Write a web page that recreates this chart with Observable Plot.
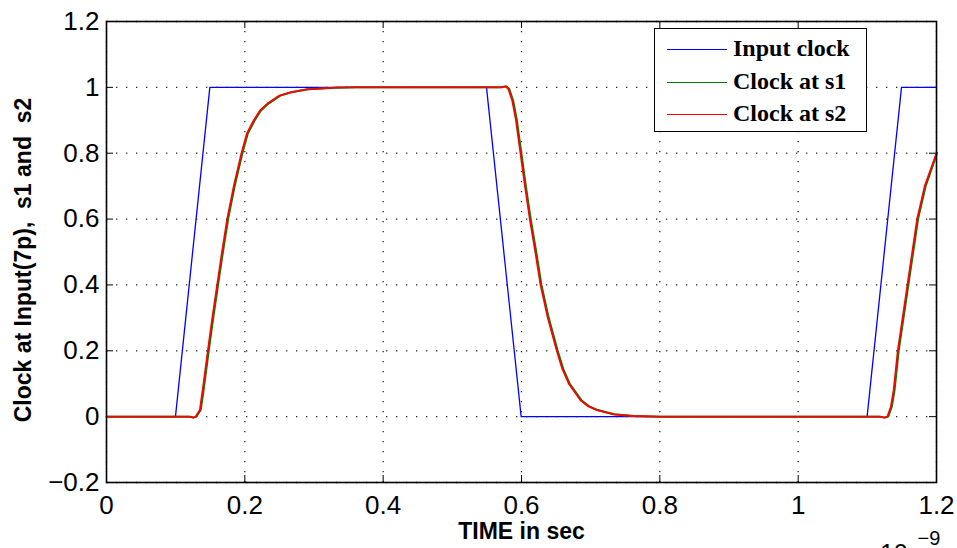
<!DOCTYPE html>
<html>
<head>
<meta charset="utf-8">
<script src="https://cdn.jsdelivr.net/npm/d3@7"></script>
<script src="https://cdn.jsdelivr.net/npm/@observablehq/plot@0.6"></script>
<style>
  html, body { margin: 0; padding: 0; background: #fff; }
  #wrap { position: relative; width: 957px; height: 548px; overflow: hidden; }
  #wrap svg text { white-space: pre; }
  #legend {
    position: absolute; left: 654px; top: 28px; width: 211px; height: 102px;
    border: 1.5px solid #000; background: #fff;
    font-family: "Liberation Serif", "Times New Roman", serif; font-weight: bold; font-size: 24px;
  }
  #legend .row { position: absolute; left: 0; height: 30px; width: 100%; }
  #legend .sw { position: absolute; left: 12px; width: 60px; height: 0; top: 0; }
  #legend .lab { position: absolute; left: 78px; line-height: 1; white-space: nowrap; }
</style>
</head>
<body>
<div id="wrap"><div id="legend"></div></div>
<script>
// ---- data (time in units of 1e-9 s) ----
const inputTime  = [0, 0.0997, 0.1494, 0.5494, 0.5995, 1.0997, 1.1494, 1.2];
const inputClock = [0, 0, 1, 1, 0, 0, 1, 1];

const s2Time = [0, 0.12, 0.125, 0.1287, 0.1349, 0.139, 0.1465, 0.153, 0.160, 0.167, 0.1745, 0.184, 0.1951,
  0.203, 0.213, 0.222, 0.2323, 0.25, 0.266, 0.29, 0.33, 0.36, 0.570, 0.577, 0.581, 0.5866, 0.592, 0.5985, 0.605, 0.612,
  0.62, 0.6275, 0.638, 0.651, 0.659, 0.6684, 0.6853, 0.696, 0.709, 0.733, 0.76, 0.8, 1.118, 1.124, 1.129, 1.134, 1.138,
  1.144, 1.151, 1.158, 1.165, 1.172, 1.183, 1.2];
const s2Clock = [0, 0, -0.003, 0, 0.02, 0.08, 0.2, 0.3, 0.4, 0.5, 0.6, 0.7, 0.8,
  0.86, 0.9, 0.93, 0.95, 0.975, 0.985, 0.994, 0.999, 1.0, 1.0, 1.003, 0.995, 0.96, 0.9, 0.8, 0.7, 0.6,
  0.5, 0.4, 0.3, 0.2, 0.145, 0.1, 0.05, 0.032, 0.02, 0.007, 0.002, 0, 0, -0.003, 0, 0.03, 0.08,
  0.2, 0.3, 0.4, 0.5, 0.6, 0.7, 0.8];

const s1Time = [0, 0.12, 0.125, 0.1292, 0.1355, 0.1396, 0.1471, 0.1536, 0.1606, 0.1676, 0.1751, 0.1846, 0.1957,
  0.2036, 0.2136, 0.2226, 0.2329, 0.2506, 0.2666, 0.2906, 0.3306, 0.36, 0.570, 0.5776, 0.5816, 0.5872, 0.5926, 0.5991, 0.6056, 0.6126,
  0.6206, 0.6281, 0.6386, 0.6516, 0.6596, 0.669, 0.6859, 0.6966, 0.7096, 0.7336, 0.7606, 0.8, 1.118, 1.1245, 1.1295, 1.1346, 1.1386,
  1.1446, 1.1516, 1.1586, 1.1656, 1.1726, 1.1836, 1.2];
const s1Clock = [0, 0, -0.003, 0, 0.02, 0.08, 0.2, 0.3, 0.4, 0.5, 0.6, 0.7, 0.8,
  0.86, 0.9, 0.93, 0.95, 0.975, 0.985, 0.994, 0.999, 1.0, 1.0, 1.003, 0.995, 0.96, 0.9, 0.8, 0.7, 0.6,
  0.5, 0.4, 0.3, 0.2, 0.145, 0.1, 0.05, 0.032, 0.02, 0.007, 0.002, 0, 0, -0.003, 0, 0.03, 0.08,
  0.2, 0.3, 0.4, 0.5, 0.6, 0.7, 0.8];

const xTicks = [0, 0.2, 0.4, 0.6, 0.8, 1, 1.2];
const xTickLabels = ["0", "0.2", "0.4", "0.6", "0.8", "1", "1.2"];
const yTicks = [-0.2, 0, 0.2, 0.4, 0.6, 0.8, 1, 1.2];
const yTickLabels = ["\u22120.2", "0", "0.2", "0.4", "0.6", "0.8", "1", "1.2"];

const seriesNames = ["Input clock", "Clock at s1", "Clock at s2"];
const seriesColors = ["#0000ff", "#008000", "#ff0000"];

// ---- tables ----
const inputRows = inputTime.map((t, i) => ({t, v: inputClock[i]}));
const s1Rows = s1Time.map((t, i) => ({t, v: s1Clock[i]}));
const s2Rows = s2Time.map((t, i) => ({t, v: s2Clock[i]}));

const W = 957, H = 548, mL = 106, mR = 21, mT = 21, mB = 66;
const fw = W - mL - mR, fh = H - mT - mB, tk = 7;
const font = "'Liberation Sans', Arial, sans-serif";

const chart = Plot.plot({
  width: W, height: H,
  marginLeft: mL, marginRight: mR, marginTop: mT, marginBottom: mB,
  style: {fontFamily: font, background: "#fff", color: "#000"},
  x: {domain: [0, 1.2]},
  y: {domain: [-0.2, 1.2]},
  marks: [
    Plot.gridX(xTicks, {stroke: "#222", strokeOpacity: 1, strokeWidth: 1.3, strokeDasharray: "1.3,8.7"}),
    Plot.gridY(yTicks, {stroke: "#222", strokeOpacity: 1, strokeWidth: 1.3, strokeDasharray: "1.3,8.7"}),
    Plot.tickX(xTicks, {x: d => d, insetBottom: fh - tk, stroke: "#000", strokeWidth: 1}),
    Plot.tickX(xTicks, {x: d => d, insetTop: fh - tk, stroke: "#000", strokeWidth: 1}),
    Plot.tickY(yTicks, {y: d => d, insetRight: fw - tk, stroke: "#000", strokeWidth: 1}),
    Plot.tickY(yTicks, {y: d => d, insetLeft: fw - tk, stroke: "#000", strokeWidth: 1}),
    Plot.axisX(xTicks, {anchor: "bottom", tickSize: 0, tickPadding: 13, fontSize: 26, label: null,
      tickFormat: (d, i) => xTickLabels[i]}),
    Plot.axisY(yTicks, {anchor: "left", tickSize: 0, tickPadding: 7, fontSize: 26, label: null,
      tickFormat: (d, i) => yTickLabels[i]}),
    Plot.line(inputRows, {x: "t", y: "v", stroke: seriesColors[0], strokeWidth: 1.3}),
    Plot.line(s1Rows, {x: "t", y: "v", stroke: seriesColors[1], strokeWidth: 2, dx: 0.5}),
    Plot.line(s2Rows, {x: "t", y: "v", stroke: seriesColors[2], strokeWidth: 1.8}),
    Plot.frame({stroke: "#000", strokeWidth: 1.6}),
    Plot.text(["TIME in sec"], {frameAnchor: "bottom", textAnchor: "middle", lineAnchor: "middle", dy: 49, fontSize: 23, fontWeight: "bold"}),
    Plot.text(["Clock at Input(7p),  s1 and  s2"], {frameAnchor: "left", textAnchor: "middle", lineAnchor: "middle", rotate: -90, dx: -83, dy: 8, fontSize: 23, fontWeight: "bold"}),
    Plot.text(["x 10"], {frameAnchor: "bottom-right", textAnchor: "start", lineAnchor: "bottom", dx: -76, dy: 79, fontSize: 25}),
    Plot.text(["\u22129"], {frameAnchor: "bottom-right", textAnchor: "start", lineAnchor: "bottom", dx: -19, dy: 62, fontSize: 20})
  ]
});
const wrap = document.getElementById("wrap");
wrap.insertBefore(chart, wrap.firstChild);

// ---- legend ----
const legend = document.getElementById("legend");
const rowTops = [20, 52.5, 85];
seriesNames.forEach((name, i) => {
  const row = document.createElement("div");
  row.className = "row";
  row.style.top = rowTops[i] + "px";
  const sw = document.createElement("div");
  sw.className = "sw";
  sw.style.borderTop = `1.5px solid ${seriesColors[i]}`;
  const lab = document.createElement("div");
  lab.className = "lab";
  lab.style.top = "-13px";
  lab.textContent = name;
  row.appendChild(sw); row.appendChild(lab);
  legend.appendChild(row);
});
</script>
</body>
</html>
